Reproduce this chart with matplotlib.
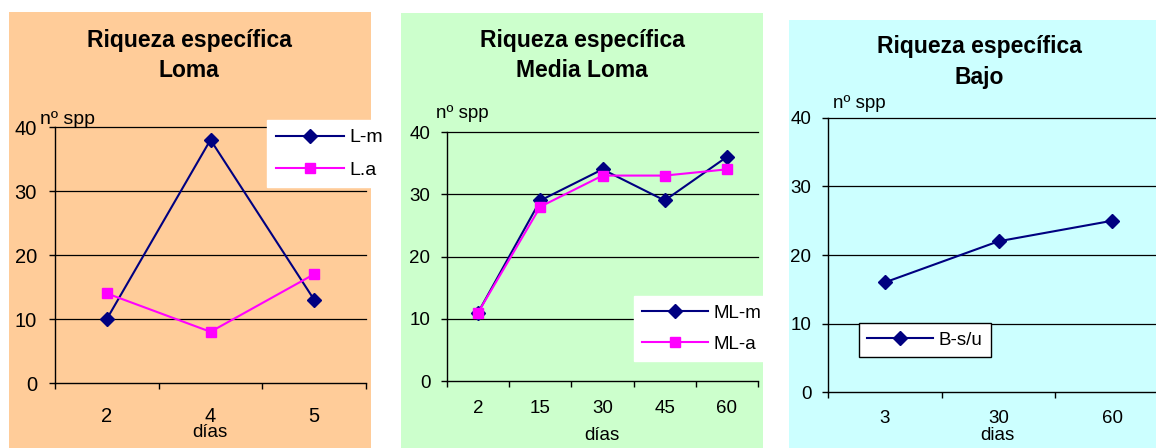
import matplotlib
matplotlib.use("Agg")
import matplotlib.pyplot as plt
from matplotlib.patches import Rectangle

plt.rcParams['font.family'] = ['Liberation Sans', 'DejaVu Sans']

# ---- data ----
loma_x = ["2", "4", "5"]
loma_m = [10, 38, 13]
loma_a = [14, 8, 17]

media_x = ["2", "15", "30", "45", "60"]
media_m = [11, 29, 34, 29, 36]
media_a = [11, 28, 33, 33, 34]

bajo_x = ["3", "30", "60"]
bajo_su = [16, 22, 25]

yticks = [0, 10, 20, 30, 40]

W, H = 1156, 448
fig = plt.figure(figsize=(W / 100, H / 100), dpi=100)
fig.patch.set_facecolor('white')

NAVY = '#000080'
MAG = '#FF00FF'


def box(x0, y0, x1, y1):
    return [x0 / W, 1 - y1 / H, (x1 - x0) / W, (y1 - y0) / H]


def fx(x):
    return x / W


def fy(y):
    return 1 - y / H


def bg(x0, y0, x1, y1, color):
    fig.patches.append(Rectangle((x0 / W, 1 - y1 / H), (x1 - x0) / W, (y1 - y0) / H,
                                 transform=fig.transFigure, facecolor=color,
                                 edgecolor='none', zorder=-5))


def make_axes(rect, cats, tfs, xpad, ypad):
    ax = fig.add_axes(box(*rect))
    ax.set_zorder(2)
    ax.patch.set_alpha(0)
    n = len(cats)
    ax.set_xlim(0.5, n + 0.5)
    ax.set_ylim(0, 40)
    ax.set_yticks(yticks)
    ax.set_yticklabels([str(v) for v in yticks], fontsize=tfs)
    ax.set_xticks([0.5 + i for i in range(n + 1)])
    ax.set_xticklabels([''] * (n + 1))
    ax.set_xticks(list(range(1, n + 1)), minor=True)
    ax.set_xticklabels(cats, minor=True, fontsize=tfs)
    ax.tick_params(axis='x', which='major', length=4.5, width=1, direction='out', color='black')
    ax.tick_params(axis='x', which='minor', length=0, pad=xpad)
    ax.tick_params(axis='y', length=4, width=1, direction='out', pad=ypad, color='black')
    for s in ['top', 'right']:
        ax.spines[s].set_visible(False)
    for s in ['left', 'bottom']:
        ax.spines[s].set_color('black')
        ax.spines[s].set_linewidth(1)
    for v in yticks[1:]:
        ax.axhline(v, color='black', lw=0.9, zorder=1, clip_on=False)
    return ax


def title(xc, y1, y2, l1, l2, fs):
    fig.text(fx(xc), fy(y1), l1, ha='center', va='baseline', fontsize=fs, fontweight='bold')
    fig.text(fx(xc), fy(y2), l2, ha='center', va='baseline', fontsize=fs, fontweight='bold')


def legend(ax, x0, y0, edge, fs):
    leg = ax.legend(loc='upper left', bbox_to_anchor=(fx(x0), fy(y0)),
                    bbox_transform=fig.transFigure, borderaxespad=0,
                    fontsize=fs, frameon=True, fancybox=False, framealpha=1,
                    handlelength=3.5, handletextpad=0.3, labelspacing=0.75,
                    borderpad=0.45)
    leg.get_frame().set_facecolor('white')
    leg.get_frame().set_edgecolor(edge)
    leg.get_frame().set_linewidth(1)
    leg.set_zorder(5)
    return leg


# ---- panel 1: Loma ----
bg(9, 12, 371, 448, '#FFCC99')
ax1 = make_axes((55, 127, 366, 383), loma_x, 14.5, 17, 9)
x1 = list(range(1, len(loma_x) + 1))
ax1.plot(x1, loma_m, color=NAVY, lw=1.5, marker='D', ms=7, label='L-m', zorder=3)
ax1.plot(x1, loma_a, color=MAG, lw=1.5, marker='s', ms=7.5, label='L.a', zorder=3)
legend(ax1, 267, 120, 'white', 14)
title(189, 47, 77, 'Riqueza específica', 'Loma', 16.5)
fig.text(fx(40), fy(124), 'nº spp', ha='left', va='baseline', fontsize=14)
fig.text(fx(210), fy(437), 'días', ha='center', va='baseline', fontsize=13.5)

# ---- panel 2: Media Loma ----
bg(401, 13, 763, 448, '#CCFFCC')
ax2 = make_axes((447, 132, 758, 381), media_x, 13.5, 14, 8)
x2 = list(range(1, len(media_x) + 1))
ax2.plot(x2, media_m, color=NAVY, lw=1.5, marker='D', ms=7, label='ML-m', zorder=3)
ax2.plot(x2, media_a, color=MAG, lw=1.5, marker='s', ms=7.5, label='ML-a', zorder=3)
legend(ax2, 634, 296, 'white', 13.5)
title(582, 47, 77, 'Riqueza específica', 'Media Loma', 16.5)
fig.text(fx(436), fy(118), 'nº spp', ha='left', va='baseline', fontsize=13.5)
fig.text(fx(602), fy(440), 'días', ha='center', va='baseline', fontsize=13.5)

# ---- panel 3: Bajo ----
bg(789, 20, 1156, 448, '#CCFFFF')
ax3 = make_axes((828, 118, 1169, 392), bajo_x, 13.5, 13, 8)
x3 = list(range(1, len(bajo_x) + 1))
ax3.plot(x3, bajo_su, color=NAVY, lw=1.5, marker='D', ms=7, label='B-s/u', zorder=3)
legend(ax3, 859, 323, 'black', 13.5)
title(979, 53, 84, 'Riqueza específica', 'Bajo', 16.5)
fig.text(fx(833), fy(108), 'nº spp', ha='left', va='baseline', fontsize=13.5)
fig.text(fx(997), fy(440), 'dias', ha='center', va='baseline', fontsize=13.5)

fig.savefig('out.png', dpi=100)
